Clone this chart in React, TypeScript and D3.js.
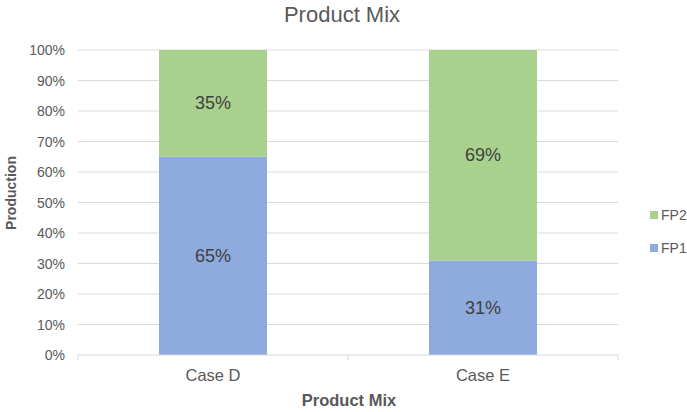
import React from "react";
import * as d3 from "d3";

const categories = ["Case D", "Case E"];
const fp1Values = [65, 31];
const fp2Values = [35, 69];
const seriesNames = ["FP1", "FP2"];
const yTicks = [0, 10, 20, 30, 40, 50, 60, 70, 80, 90, 100];

const W = 687;
const H = 412;
const margin = { left: 78, right: 69, top: 50, bottom: 57 };
const colors: Record<string, string> = { FP1: "#8FAADC", FP2: "#A9D18E" };
const font = "'Liberation Sans', Arial, sans-serif";

export default function App() {
  const x = d3
    .scaleBand<string>()
    .domain(categories)
    .range([margin.left, W - margin.right])
    .paddingInner(0.6)
    .paddingOuter(0.3);
  const y = d3.scaleLinear().domain([0, 100]).range([H - margin.bottom, margin.top]);

  const rows = categories.map((c, i) => ({ cat: c, FP1: fp1Values[i], FP2: fp2Values[i] }));
  const stacked = d3.stack<any>().keys(seriesNames)(rows);

  return (
    <svg width={W} height={H} style={{ position: "absolute", left: 0, top: 0 }} fontFamily={font}>
      <rect width={W} height={H} fill="#fff" />
      <text x={342} y={22} textAnchor="middle" fontSize={22} fill="#595959">
        Product Mix
      </text>
      {yTicks.map((t) => (
        <g key={t}>
          {t > 0 && (
            <line x1={margin.left} x2={W - margin.right} y1={y(t)} y2={y(t)} stroke="#d9d9d9" strokeWidth={1} />
          )}
          <text x={65} y={y(t) + 5} textAnchor="end" fontSize={14} fill="#595959">
            {t}%
          </text>
        </g>
      ))}
      {stacked.map((s) =>
        s.map((d, i) => (
          <g key={s.key + i}>
            <rect
              x={x(categories[i])}
              width={x.bandwidth()}
              y={y(d[1])}
              height={y(d[0]) - y(d[1])}
              fill={colors[s.key]}
            />
            <text
              x={(x(categories[i]) as number) + x.bandwidth() / 2}
              y={(y(d[0]) + y(d[1])) / 2 + 6}
              textAnchor="middle"
              fontSize={18}
              fill="#404040"
            >
              {d[1] - d[0]}%
            </text>
          </g>
        ))
      )}
      <line x1={margin.left} x2={W - margin.right} y1={y(0)} y2={y(0)} stroke="#d9d9d9" />
      {[margin.left, (margin.left + W - margin.right) / 2, W - margin.right].map((px, i) => (
        <line key={i} x1={px} x2={px} y1={y(0)} y2={y(0) + 5} stroke="#d9d9d9" />
      ))}
      {categories.map((c) => (
        <text key={c} x={(x(c) as number) + x.bandwidth() / 2} y={y(0) + 26} textAnchor="middle" fontSize={16.5} fill="#595959">
          {c}
        </text>
      ))}
      <text x={349} y={406} textAnchor="middle" fontSize={16.5} fontWeight="bold" fill="#595959">
        Product Mix
      </text>
      <text
        transform={`translate(16,193) rotate(-90)`}
        textAnchor="middle"
        fontSize={14}
        fontWeight="bold"
        fill="#595959"
      >
        Production
      </text>
      {["FP2", "FP1"].map((k, i) => (
        <g key={k} transform={`translate(650,${211 + i * 33})`}>
          <rect width={8} height={8} fill={colors[k]} />
          <text x={11} y={9} fontSize={14} fill="#595959">
            {k}
          </text>
        </g>
      ))}
    </svg>
  );
}
